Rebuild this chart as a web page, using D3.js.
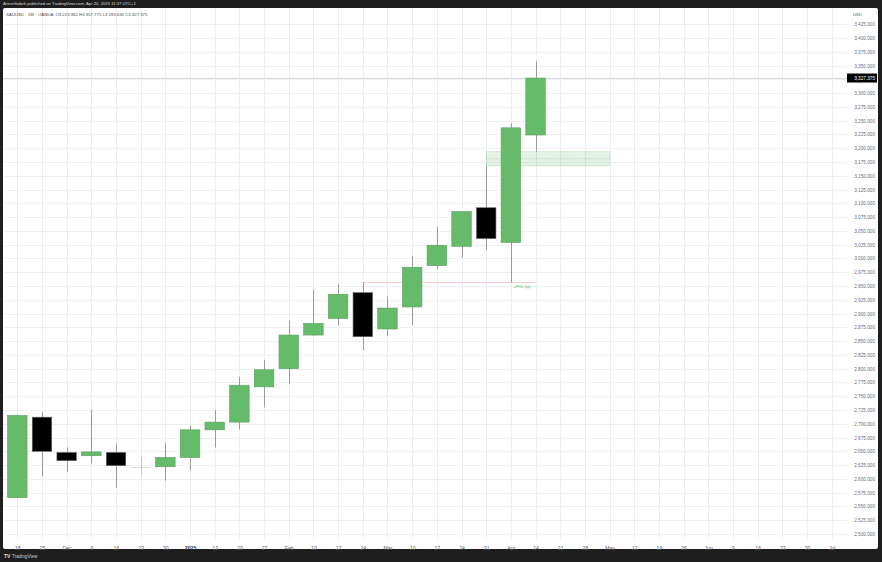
<!DOCTYPE html>
<html>
<head>
<meta charset="utf-8">
<script src="https://cdn.jsdelivr.net/npm/d3@7"></script>
<style>
  html, body { margin: 0; padding: 0; background: #1e1e1e; }
  svg { display: block; font-family: "Liberation Sans", Arial, sans-serif; }
</style>
</head>
<body>
<svg id="chart" width="882" height="562"></svg>
<script>
// weekly XAUUSD candles (OANDA)
const weeks = ['2024-11-18', '2024-11-25', '2024-12-02', '2024-12-09', '2024-12-16', '2024-12-23',
  '2024-12-30', '2025-01-06', '2025-01-13', '2025-01-20', '2025-01-27', '2025-02-03', '2025-02-10',
  '2025-02-17', '2025-02-24', '2025-03-03', '2025-03-10', '2025-03-17', '2025-03-24', '2025-03-31',
  '2025-04-07', '2025-04-14']
const open = [2566, 2712, 2648, 2642, 2648, 2621.5, 2622, 2639, 2689, 2703, 2767, 2800, 2861, 2891,
  2938, 2872, 2912, 2987, 3022, 3092, 3029, 3223.965]
const high = [2717, 2721, 2657, 2726, 2664, 2639, 2665, 2697, 2725, 2785, 2816, 2887, 2943, 2954,
  2957, 2930, 3004, 3057, 3086, 3168, 3245, 3357.775]
const low = [2565, 2605, 2613, 2628, 2584, 2608, 2597, 2615, 2657, 2690, 2730, 2773, 2860, 2878,
  2833, 2859, 2879, 2981, 3002, 3015, 2957, 3193.63]
const close = [2715, 2650, 2633, 2649, 2624, 2621, 2639, 2689, 2703, 2770, 2798, 2861, 2882, 2935,
  2858, 2910, 2984, 3024, 3085, 3036, 3237, 3327.375]

// time axis labels, one per week from Nov 18 2024
const xTickLabels = ['18', '25', 'Dec', '9', '16', '23', '30', '2025', '13', '20', '27', 'Feb', '10',
  '17', '24', 'Mar', '10', '17', '24', '31', 'Apr', '14', '21', '28', 'May', '12', '19', '26', 'Jun',
  '9', '16', '23', '30', 'Jul']
const yTicks = d3.range(2500, 3426, 25)

// fair value gap zone and the -FVL level
const fvgZone = { from: '2025-03-31', to: '2025-05-05', top: 3193.63, bottom: 3168 }
const fvlLine = { from: '2025-02-24', to: '2025-04-14', price: 2957, label: '+FVL (w)' }

const header = 'ArtemSabek published on TradingView.com, Apr 20, 2025 11:37 UTC+1'
const symbolLine = 'XAUUSD \u00b7 1W \u00b7 OANDA  O3,223.965 H3,357.775 L3,193.630 C3,327.375'

const parse = d3.utcParse('%Y-%m-%d')
const candles = weeks.map((w, i) => ({
  date: parse(w), o: open[i], h: high[i], l: low[i], c: close[i]
}))

const svg = d3.select('#chart')
const W = 882
const H = 562
const pane = { left: 3, right: 847, top: 8, bottom: 539 }

const x = d3
  .scaleUtc()
  .domain([parse('2024-11-18'), parse('2025-07-07')])
  .range([17.3, 831.7])
const y = d3
  .scaleLinear()
  .domain([2500, 3400])
  .range([534, 38])

const tickDates = d3.utcMonday.range(parse('2024-11-18'), parse('2025-07-08'))

// frame
svg.append('rect').attr('width', W).attr('height', H).attr('fill', '#1e1e1e')
svg
  .append('rect')
  .attr('x', 3)
  .attr('y', 8)
  .attr('width', 875)
  .attr('height', 541)
  .attr('rx', 2)
  .attr('fill', '#ffffff')

svg
  .append('text')
  .attr('x', 3)
  .attr('y', 5.4)
  .attr('font-size', 4.2)
  .attr('fill', '#d8d8d8')
  .text(header)

// grid
const grid = svg.append('g')
grid
  .selectAll('.vg')
  .data(tickDates)
  .join('line')
  .attr('x1', d => Math.round(x(d)) + 0.5)
  .attr('x2', d => Math.round(x(d)) + 0.5)
  .attr('y1', pane.top)
  .attr('y2', pane.bottom)
  .attr('stroke', '#ebedf1')
grid
  .selectAll('.hg')
  .data(yTicks)
  .join('line')
  .attr('x1', pane.left)
  .attr('x2', pane.right)
  .attr('y1', d => Math.round(y(d)) + 0.5)
  .attr('y2', d => Math.round(y(d)) + 0.5)
  .attr('stroke', '#eef0f4')

// FVG zone
svg
  .append('rect')
  .attr('x', x(parse(fvgZone.from)))
  .attr('width', x(parse(fvgZone.to)) - x(parse(fvgZone.from)))
  .attr('y', y(fvgZone.top))
  .attr('height', y(fvgZone.bottom) - y(fvgZone.top))
  .attr('fill', 'rgba(76,175,80,0.15)')
  .attr('stroke', 'rgba(76,175,80,0.3)')
  .attr('stroke-width', 0.6)
svg
  .append('line')
  .attr('x1', x(parse(fvgZone.from)))
  .attr('x2', x(parse(fvgZone.to)))
  .attr('y1', y((fvgZone.top + fvgZone.bottom) / 2))
  .attr('y2', y((fvgZone.top + fvgZone.bottom) / 2))
  .attr('stroke', 'rgba(56,142,60,0.7)')
  .attr('stroke-width', 0.5)
  .attr('stroke-dasharray', '1,1.5')

// -FVL level
svg
  .append('line')
  .attr('x1', x(parse(fvlLine.from)))
  .attr('x2', x(parse(fvlLine.to)))
  .attr('y1', Math.round(y(fvlLine.price)) + 0.5)
  .attr('y2', Math.round(y(fvlLine.price)) + 0.5)
  .attr('stroke', 'rgba(242,54,69,0.25)')
  .attr('stroke-width', 1)
svg
  .append('text')
  .attr('x', x(parse('2025-04-07')) + 2.5)
  .attr('y', y(fvlLine.price) + 5.5)
  .attr('font-size', 4.3)
  .attr('fill', '#4caf50')
  .text(fvlLine.label)

// last price line
const last = close[close.length - 1]
svg
  .append('line')
  .attr('x1', pane.left)
  .attr('x2', pane.right)
  .attr('y1', Math.round(y(last)) + 0.5)
  .attr('y2', Math.round(y(last)) + 0.5)
  .attr('stroke', '#dadada')

// candles
const bodyW = 19.5
const isDoji = d => Math.abs(d.o - d.c) < 1
const cg = svg.append('g')
cg.selectAll('.wick')
  .data(candles)
  .join('line')
  .attr('x1', d => Math.round(x(d.date)) + 0.5)
  .attr('x2', d => Math.round(x(d.date)) + 0.5)
  .attr('y1', d => y(d.h))
  .attr('y2', d => y(d.l))
  .attr('stroke', d => (isDoji(d) ? '#c4c4c4' : '#9a9a9a'))
cg.selectAll('.body')
  .data(candles)
  .join('rect')
  .attr('x', d => x(d.date) - bodyW / 2)
  .attr('width', bodyW)
  .attr('y', d => y(Math.max(d.o, d.c)))
  .attr('height', d => Math.max(0.6, Math.abs(y(d.o) - y(d.c))))
  .attr('fill', d => (isDoji(d) ? '#c4c4c4' : d.c >= d.o ? '#66bb6a' : '#000000'))
  .attr('stroke', d => (isDoji(d) ? 'none' : d.c >= d.o ? '#5c9d5f' : '#6a6a6a'))
  .attr('stroke-width', 0.6)

// symbol line
svg
  .append('text')
  .attr('x', 6)
  .attr('y', 15.5)
  .attr('font-size', 4.3)
  .attr('fill', '#4a4a4a')
  .attr('xml:space', 'preserve')
  .style('white-space', 'pre')
  .text(symbolLine)

// price axis
const yAxis = d3
  .axisRight(y)
  .tickValues(yTicks)
  .tickSize(0)
  .tickFormat(d3.format(',.3f'))
const ya = svg
  .append('g')
  .attr('transform', 'translate(875,0)')
  .call(yAxis)
ya.select('.domain').remove()
ya.selectAll('text')
  .attr('x', 0)
  .attr('text-anchor', 'end')
  .attr('font-size', 4.7)
  .attr('font-family', '"Liberation Sans", Arial, sans-serif')
  .attr('fill', '#6a6d78')
svg
  .append('text')
  .attr('x', 853)
  .attr('y', 15.5)
  .attr('font-size', 4.3)
  .attr('fill', '#555')
  .text('USD')

// last price tag
svg
  .append('rect')
  .attr('x', 847)
  .attr('y', y(last) - 4.5)
  .attr('width', 30)
  .attr('height', 9)
  .attr('fill', '#000')
svg
  .append('text')
  .attr('x', 875)
  .attr('y', y(last))
  .attr('dy', '0.35em')
  .attr('text-anchor', 'end')
  .attr('font-size', 4.7)
  .attr('fill', '#fff')
  .text(d3.format(',.3f')(last))

// time axis
const xAxis = d3
  .axisBottom(x)
  .tickValues(tickDates)
  .tickSize(0)
  .tickFormat((d, i) => xTickLabels[i])
const xa = svg
  .append('g')
  .attr('transform', `translate(0,${pane.bottom + 4})`)
  .call(xAxis)
xa.select('.domain').remove()
xa.selectAll('text')
  .attr('font-size', 5.2)
  .attr('font-family', '"Liberation Sans", Arial, sans-serif')
  .attr('font-weight', (d, i) => (xTickLabels[i] === '2025' ? 'bold' : 'normal'))
  .attr('fill', (d, i) => (xTickLabels[i] === '2025' ? '#333' : '#5d606b'))

// footer logo
svg
  .append('text')
  .attr('x', 4)
  .attr('y', 558)
  .attr('font-size', 5)
  .attr('fill', '#e0e0e0')
  .attr('font-weight', 'bold')
  .text('TV')
svg
  .append('text')
  .attr('x', 12)
  .attr('y', 558)
  .attr('font-size', 4.6)
  .attr('fill', '#d0d0d0')
  .text('TradingView')
</script>
</body>
</html>
